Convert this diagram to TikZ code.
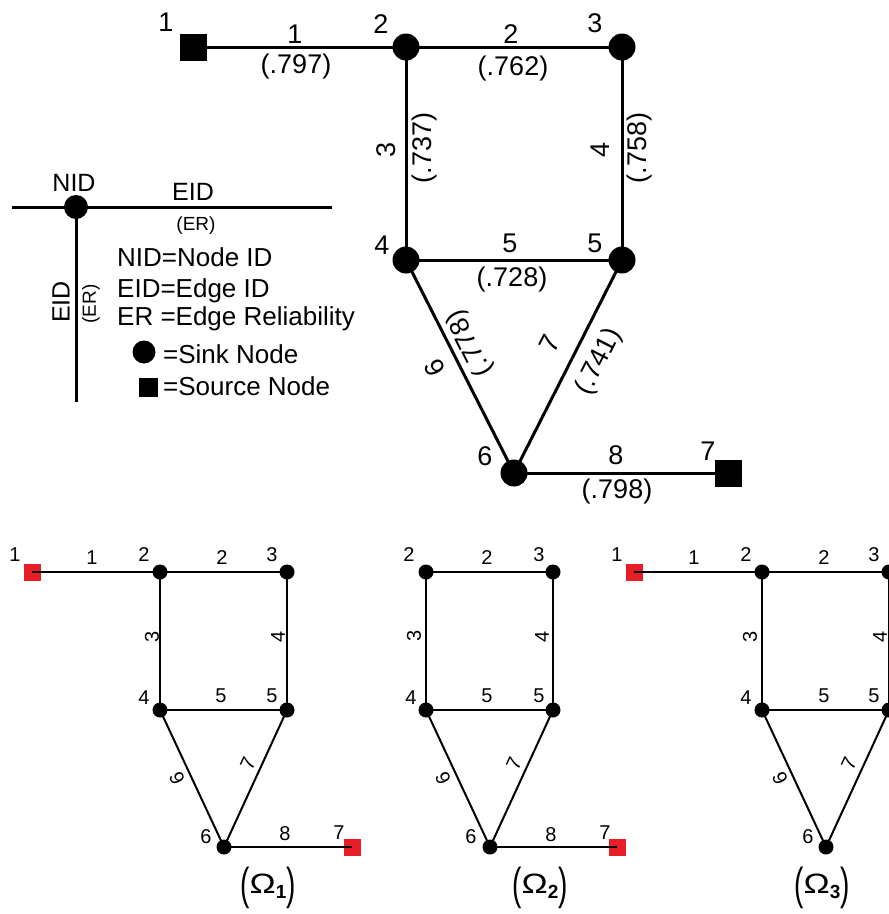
\documentclass[tikz,border=0pt]{standalone}
\usepackage{graphicx}
\usepackage{fontspec}
\setmainfont{Liberation Sans}
\definecolor{srcred}{RGB}{232,30,38}
\newcommand{\omlab}[1]{\raisebox{-6pt}{\scalebox{1}[1.6]{(}}\scalebox{1.25}[1]{Ω}\raisebox{-5pt}{\fontsize{19}{19}\selectfont\bfseries #1}\raisebox{-6pt}{\scalebox{1}[1.6]{)}}}
\begin{document}
\begin{tikzpicture}[x=1pt,y=-1pt,
  bigt/.style={font=\fontsize{27}{27}\selectfont, inner sep=0pt},
  legt/.style={font=\fontsize{26}{26}\selectfont, inner sep=0pt, anchor=base west},
  lbl/.style={font=\fontsize{25}{25}\selectfont, inner sep=0pt},
  ert/.style={font=\fontsize{19}{19}\selectfont, inner sep=0pt},
  smt/.style={font=\fontsize{20}{20}\selectfont, inner sep=0pt},
  omt/.style={font=\fontsize{28}{28}\selectfont, inner sep=0pt},
  sinkB/.style={circle, fill=black, minimum size=27pt, inner sep=0pt},
  srcB/.style={rectangle, fill=black, minimum size=27pt, inner sep=0pt},
  sinkS/.style={circle, fill=black, minimum size=15pt, inner sep=0pt},
  srcS/.style={rectangle, fill=srcred, minimum size=17pt, inner sep=0pt},
  edgeB/.style={line width=3pt},
  edgeS/.style={line width=2pt}]
\useasboundingbox (0,0) rectangle (889,914);

% ---------------- top graph ----------------
\node[srcB]  (a1) at (193,47) {};
\node[sinkB] (a2) at (406,47) {};
\node[sinkB] (a3) at (622,47) {};
\node[sinkB] (a4) at (406,260) {};
\node[sinkB] (a5) at (622,260) {};
\node[sinkB] (a6) at (514,473) {};
\node[srcB]  (a7) at (728,473) {};
\draw[edgeB] (a1.center) -- (a2.center);
\draw[edgeB] (a2.center) -- (a3.center);
\draw[edgeB] (a2.center) -- (a4.center);
\draw[edgeB] (a3.center) -- (a5.center);
\draw[edgeB] (a4.center) -- (a5.center);
\draw[edgeB] (a4.center) -- (a6.center);
\draw[edgeB] (a5.center) -- (a6.center);
\draw[edgeB] (a6.center) -- (a7.center);
% node ids
\node[bigt] (a1n) at (166,22) {1};
\node[bigt] (a2n) at (381,24) {2};
\node[bigt] (a3n) at (595,23) {3};
\node[bigt] (a4n) at (382,245) {4};
\node[bigt] (a5n) at (595,243) {5};
\node[bigt] (a6n) at (485,456) {6};
\node[bigt] (a7n) at (708,451) {7};
% edge ids and reliabilities
\node[bigt] (e1i) at (295,34) {1};
\node[bigt] (e1r) at (296,67) {(.797)};
\node[bigt] (e2i) at (511,34) {2};
\node[bigt] (e2r) at (513,69) {(.762)};
\node[bigt, rotate=90] (e3i) at (386,150) {3};
\node[bigt, rotate=90] (e3r) at (425,148) {(.737)};
\node[bigt, rotate=90] (e4i) at (600,150) {4};
\node[bigt, rotate=90] (e4r) at (640,148) {(.758)};
\node[bigt] (e5i) at (510,243) {5};
\node[bigt] (e5r) at (512,280) {(.728)};
\node[bigt, rotate=116.7] (e6i) at (435,368) {6};
\node[bigt, rotate=116.7] (e6r) at (470,343) {(.778)};
\node[bigt, rotate=62.9] (e7i) at (550,344) {7};
\node[bigt, rotate=62.9] (e7r) at (599,362) {(.741)};
\node[bigt] (e8i) at (616,455) {8};
\node[bigt] (e8r) at (617,492) {(.798)};

% ---------------- legend ----------------
\node[sinkB, minimum size=24pt] (lg) at (76,207) {};
\coordinate (lgL) at (12,207);
\coordinate (lgR) at (332,207);
\coordinate (lgD) at (76,402);
\draw[edgeB] (lgL) -- (lgR);
\draw[edgeB] (lg.center) -- (lgD);
\node[lbl] (lnid) at (74,183) {NID};
\node[lbl] (leid) at (193,192) {EID};
\node[ert] (ler) at (196,226) {(ER)};
\node[lbl, rotate=90] (leidv) at (61,302) {EID};
\node[ert, rotate=90] (lerv) at (91,304) {(ER)};
\node[legt] (lt1) at (117,266) {NID=Node ID};
\node[legt] (lt2) at (117,297) {EID=Edge ID};
\node[legt] (lt3) at (117,325) {ER =Edge Reliability};
\node[sinkB, minimum size=23pt] (lsink) at (144,352) {};
\node[legt] (lt4) at (163,363) {=Sink Node};
\node[srcB, minimum size=19pt] (lsrc) at (148,387) {};
\node[legt] (lt5) at (163,395) {=Source Node};

% ---------------- Omega 1 ----------------
\node[srcS]  (b1) at (32,572) {};
\node[sinkS] (b2) at (160,572) {};
\node[sinkS] (b3) at (287,572) {};
\node[sinkS] (b4) at (160,710) {};
\node[sinkS] (b5) at (287,710) {};
\node[sinkS] (b6) at (224,847) {};
\node[srcS]  (b7) at (352,847) {};
\draw[edgeS] (b1.center) -- (b2.center);
\draw[edgeS] (b2.center) -- (b3.center);
\draw[edgeS] (b2.center) -- (b4.center);
\draw[edgeS] (b3.center) -- (b5.center);
\draw[edgeS] (b4.center) -- (b5.center);
\draw[edgeS] (b4.center) -- (b6.center);
\draw[edgeS] (b5.center) -- (b6.center);
\draw[edgeS] (b6.center) -- (b7.center);
\node[smt] (b1n) at (15,555) {1};
\node[smt] (b2n) at (144,555) {2};
\node[smt] (b3n) at (272,555) {3};
\node[smt] (b4n) at (144,698) {4};
\node[smt] (b5n) at (272,696) {5};
\node[smt] (b6n) at (206,837) {6};
\node[smt] (b7n) at (339,833) {7};
\node[smt] (f1) at (92,558) {1};
\node[smt] (f2) at (222,558) {2};
\node[smt, rotate=90] (f3) at (152,637) {3};
\node[smt, rotate=90] (f4) at (278,637) {4};
\node[smt] (f5) at (221,696) {5};
\node[smt, rotate=115] (f6) at (177,778) {6};
\node[smt, rotate=65.3] (f7) at (248,764) {7};
\node[smt] (f8) at (285,834) {8};
\node[omt] (om1) at (268,888) {\omlab{1}};

% ---------------- Omega 2 ----------------
\node[sinkS] (c2) at (426,572) {};
\node[sinkS] (c3) at (553,572) {};
\node[sinkS] (c4) at (426,710) {};
\node[sinkS] (c5) at (553,710) {};
\node[sinkS] (c6) at (490,847) {};
\node[srcS]  (c7) at (617,847) {};
\draw[edgeS] (c2.center) -- (c3.center);
\draw[edgeS] (c2.center) -- (c4.center);
\draw[edgeS] (c3.center) -- (c5.center);
\draw[edgeS] (c4.center) -- (c5.center);
\draw[edgeS] (c4.center) -- (c6.center);
\draw[edgeS] (c5.center) -- (c6.center);
\draw[edgeS] (c6.center) -- (c7.center);
\node[smt] (c2n) at (409,555) {2};
\node[smt] (c3n) at (539,555) {3};
\node[smt] (c4n) at (411,698) {4};
\node[smt] (c5n) at (539,696) {5};
\node[smt] (c6n) at (471,837) {6};
\node[smt] (c7n) at (605,833) {7};
\node[smt] (g2) at (487,558) {2};
\node[smt, rotate=90] (g3) at (414,636) {3};
\node[smt, rotate=90] (g4) at (542,637) {4};
\node[smt] (g5) at (487,696) {5};
\node[smt, rotate=115] (g6) at (443,778) {6};
\node[smt, rotate=65.3] (g7) at (514,764) {7};
\node[smt] (g8) at (551,835) {8};
\node[omt] (om2) at (540,888) {\omlab{2}};

% ---------------- Omega 3 ----------------
\node[srcS]  (d1) at (634,572) {};
\node[sinkS] (d2) at (762,572) {};
\node[sinkS] (d3) at (889,572) {};
\node[sinkS] (d4) at (762,710) {};
\node[sinkS] (d5) at (889,710) {};
\node[sinkS] (d6) at (826,847) {};
\draw[edgeS] (d1.center) -- (d2.center);
\draw[edgeS] (d2.center) -- (d3.center);
\draw[edgeS] (d2.center) -- (d4.center);
\draw[edgeS] (d3.center) -- (d5.center);
\draw[edgeS] (d4.center) -- (d5.center);
\draw[edgeS] (d4.center) -- (d6.center);
\draw[edgeS] (d5.center) -- (d6.center);
\node[smt] (d1n) at (617,555) {1};
\node[smt] (d2n) at (746,555) {2};
\node[smt] (d3n) at (874,555) {3};
\node[smt] (d4n) at (746,698) {4};
\node[smt] (d5n) at (874,696) {5};
\node[smt] (d6n) at (808,837) {6};
\node[smt] (h1) at (694,558) {1};
\node[smt] (h2) at (824,558) {2};
\node[smt, rotate=90] (h3) at (750,637) {3};
\node[smt, rotate=90] (h4) at (880,637) {4};
\node[smt] (h5) at (824,696) {5};
\node[smt, rotate=115] (h6) at (780,778) {6};
\node[smt, rotate=65.3] (h7) at (849,764) {7};
\node[omt] (om3) at (822,888) {\omlab{3}};
\end{tikzpicture}
\end{document}
